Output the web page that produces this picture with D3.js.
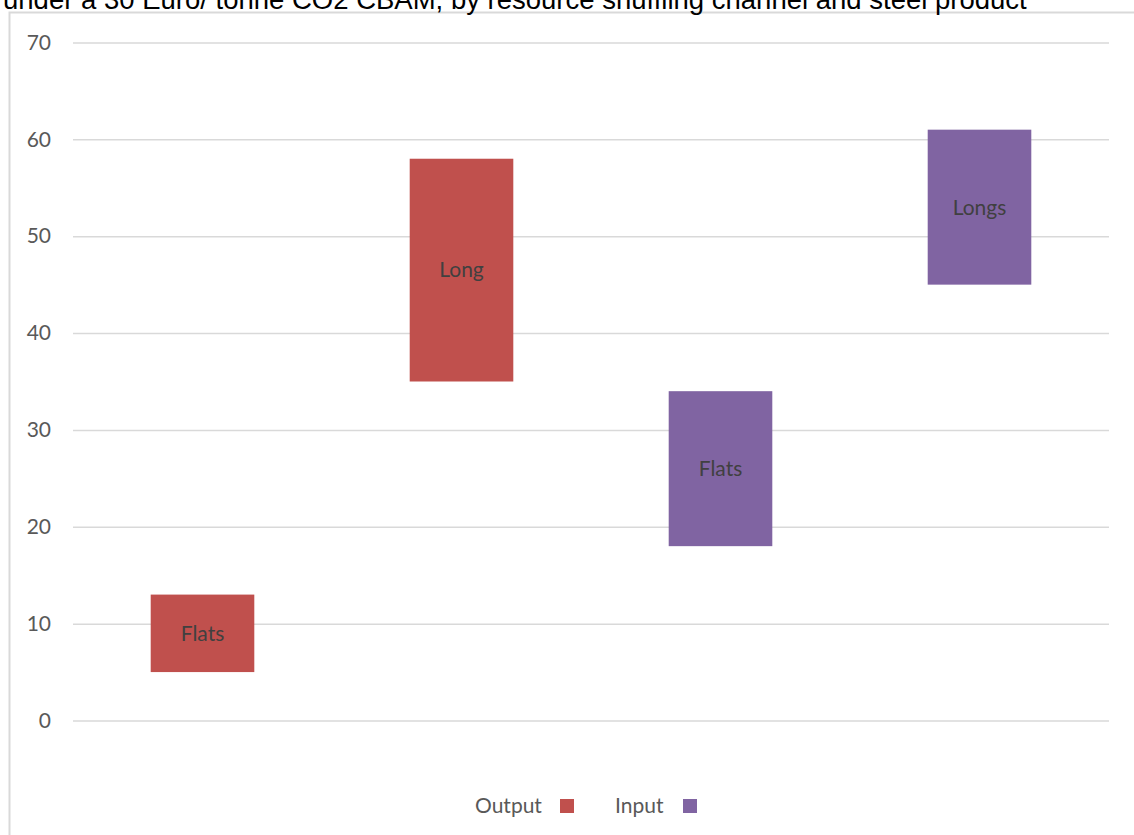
<!DOCTYPE html>
<html>
<head>
<meta charset="utf-8">
<script src="https://cdn.jsdelivr.net/npm/d3@7"></script>
<style>
  html, body { margin: 0; padding: 0; background: #ffffff; overflow: hidden; }
  svg { display: block; }
</style>
</head>
<body>
<svg id="chart" width="1134" height="835"></svg>
<script>
// Floating bars: each product spans a low-to-high range per resource shuffling channel
const titleText = "under a 30 Euro/ tonne CO2 CBAM, by resource shuffling channel and steel product";
const categories = ["Output Flats", "Output Long", "Input Flats", "Input Longs"];
const barLabels = ["Flats", "Long", "Flats", "Longs"];
const channels = ["Output", "Output", "Input", "Input"];
const lowValues = [5, 35, 18, 45];
const highValues = [13, 58, 34, 61];
const yTicks = [0, 10, 20, 30, 40, 50, 60, 70];
const legendNames = ["Output", "Input"];

const colors = { Output: "#C0504D", Input: "#8064A2" };

const svg = d3.select("#chart");
const plot = { left: 73, right: 1109, top: 42.5, bottom: 720.5 };

const x = d3.scaleBand()
  .domain(categories)
  .range([plot.left, plot.right])
  .paddingInner(0.6)
  .paddingOuter(0.3);

const y = d3.scaleLinear()
  .domain([0, 70])
  .range([plot.bottom, plot.top]);

// Chart frame
svg.append("rect")
  .attr("x", 9.5).attr("y", 12.5)
  .attr("width", 1134).attr("height", 840)
  .attr("fill", "#ffffff")
  .attr("stroke", "#d9d9d9")
  .attr("stroke-width", 2);

// Title (runs off the top of the page, above the frame)
svg.append("text")
  .attr("x", 3).attr("y", 9)
  .attr("font-family", "'Liberation Sans', Arial, sans-serif")
  .attr("font-size", 27.5)
  .attr("fill", "#000000")
  .text(titleText);

// Gridlines and value axis
const yAxis = d3.axisLeft(y)
  .tickValues(yTicks)
  .tickSize(-(plot.right - plot.left))
  .tickPadding(22);

const gy = svg.append("g")
  .attr("transform", `translate(${plot.left},0)`)
  .call(yAxis);
gy.select(".domain").remove();
gy.selectAll(".tick line")
  .attr("stroke", "#d9d9d9")
  .attr("stroke-width", 1.5);
gy.selectAll(".tick text")
  .attr("font-family", "Lato, 'Open Sans', sans-serif")
  .attr("font-size", 21)
  .attr("fill", "#595959");

// Bars
const rows = categories.map((c, i) => ({
  cat: c, label: barLabels[i], channel: channels[i], lo: lowValues[i], hi: highValues[i]
}));

svg.append("g").selectAll("rect")
  .data(rows)
  .join("rect")
  .attr("x", d => x(d.cat))
  .attr("width", x.bandwidth())
  .attr("y", d => y(d.hi))
  .attr("height", d => y(d.lo) - y(d.hi))
  .attr("fill", d => colors[d.channel]);

svg.append("g").selectAll("text")
  .data(rows)
  .join("text")
  .attr("x", d => x(d.cat) + x.bandwidth() / 2)
  .attr("y", d => y((d.lo + d.hi) / 2))
  .attr("dy", "0.35em")
  .attr("text-anchor", "middle")
  .attr("font-family", "Lato, 'Open Sans', sans-serif")
  .attr("font-size", 21)
  .attr("fill", "#404040")
  .text(d => d.label);

// Legend
const legendPos = [{ tx: 475, sx: 560 }, { tx: 615, sx: 683 }];
const legend = svg.append("g");
legendNames.forEach((name, i) => {
  legend.append("text")
    .attr("x", legendPos[i].tx)
    .attr("y", 806)
    .attr("dy", "0.35em")
    .attr("font-family", "Lato, 'Open Sans', sans-serif")
    .attr("font-size", 21)
    .attr("fill", "#595959")
    .text(name);
  legend.append("rect")
    .attr("x", legendPos[i].sx)
    .attr("y", 799)
    .attr("width", 14).attr("height", 14)
    .attr("fill", colors[name]);
});
</script>
</body>
</html>
